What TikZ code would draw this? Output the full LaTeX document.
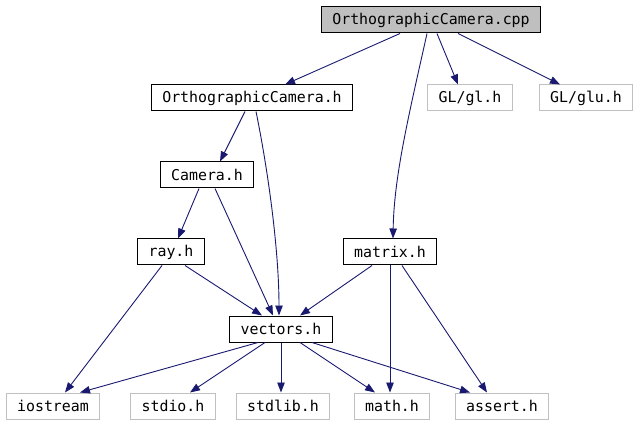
\documentclass[tikz,border=0pt]{standalone}
\usepackage{fontspec}
\newfontfamily\dvm{DejaVu Sans Mono}
\usetikzlibrary{arrows.meta}
\definecolor{edgeblue}{HTML}{191970}
\definecolor{boxgray}{HTML}{BFBFBF}
\definecolor{lightborder}{HTML}{C0C0C0}
\tikzset{
  file/.style={draw=black, line width=1pt, fill=white, minimum height=26pt, inner xsep=11pt, inner ysep=0pt, font=\dvm\fontsize{14.9}{17}\selectfont},
  sysfile/.style={file, draw=lightborder},
  mainfile/.style={file, fill=boxgray},
  dep/.style={draw=edgeblue, line width=0.9pt, -{Triangle[length=10pt,width=7.5pt]}, fill=none}
}
\begin{document}
\begin{tikzpicture}[x=1pt,y=-1pt]
\useasboundingbox (0,0) rectangle (639,427);
\node[mainfile] (cpp) at (431,20) {OrthographicCamera.cpp};
\node[file] (och) at (252,98) {OrthographicCamera.h};
\node[sysfile] (gl) at (470,98) {GL/gl.h};
\node[sysfile] (glu) at (586,98) {GL/glu.h};
\node[file] (cam) at (207,175) {Camera.h};
\node[file] (ray) at (171,252) {ray.h};
\node[file] (mat) at (390,252) {matrix.h};
\node[file] (vec) at (281,329) {vectors.h};
\node[sysfile] (ios) at (53,406) {iostream};
\node[sysfile] (stdio) at (173,406) {stdio.h};
\node[sysfile] (stdlib) at (283,406) {stdlib.h};
\node[sysfile] (math) at (392,406) {math.h};
\node[sysfile] (assert) at (502,406) {assert.h};

\draw[dep] ([xshift=-31pt]cpp.south) -- ([xshift=33pt]och.north);
\draw[dep] ([xshift=-4pt]cpp.south) .. controls (410,110) and (394,175) .. ([xshift=3pt]mat.north);
\draw[dep] ([xshift=6pt]cpp.south) -- ([xshift=-12pt]gl.north);
\draw[dep] ([xshift=27pt]cpp.south) -- ([xshift=-26pt]glu.north);

\draw[dep] ([xshift=-7pt]och.south) -- ([xshift=13pt]cam.north);
\draw[dep] ([xshift=4pt]och.south) .. controls (268,170) and (279,250) .. ([xshift=-2pt]vec.north);

\draw[dep] ([xshift=-8pt]cam.south) -- ([xshift=7pt]ray.north);
\draw[dep] ([xshift=8pt]cam.south) -- ([xshift=-8pt]vec.north);

\draw[dep] ([xshift=14pt]ray.south) -- ([xshift=-19pt]vec.north);
\draw[dep] ([xshift=-9pt]ray.south) -- ([xshift=12pt]ios.north);

\draw[dep] ([xshift=-18pt]mat.south) -- ([xshift=19pt]vec.north);
\draw[dep] (mat.south) -- ([xshift=-2pt]math.north);
\draw[dep] ([xshift=12pt]mat.south) -- ([xshift=-15pt]assert.north);

\draw[dep] ([xshift=-23pt]vec.south) -- ([xshift=27pt]ios.north);
\draw[dep] ([xshift=-16pt]vec.south) -- ([xshift=17pt]stdio.north);
\draw[dep] (vec.south) -- ([xshift=-2pt]stdlib.north);
\draw[dep] ([xshift=19pt]vec.south) -- ([xshift=-17pt]math.north);
\draw[dep] ([xshift=31pt]vec.south) -- ([xshift=-32pt]assert.north);
\end{tikzpicture}
\end{document}
